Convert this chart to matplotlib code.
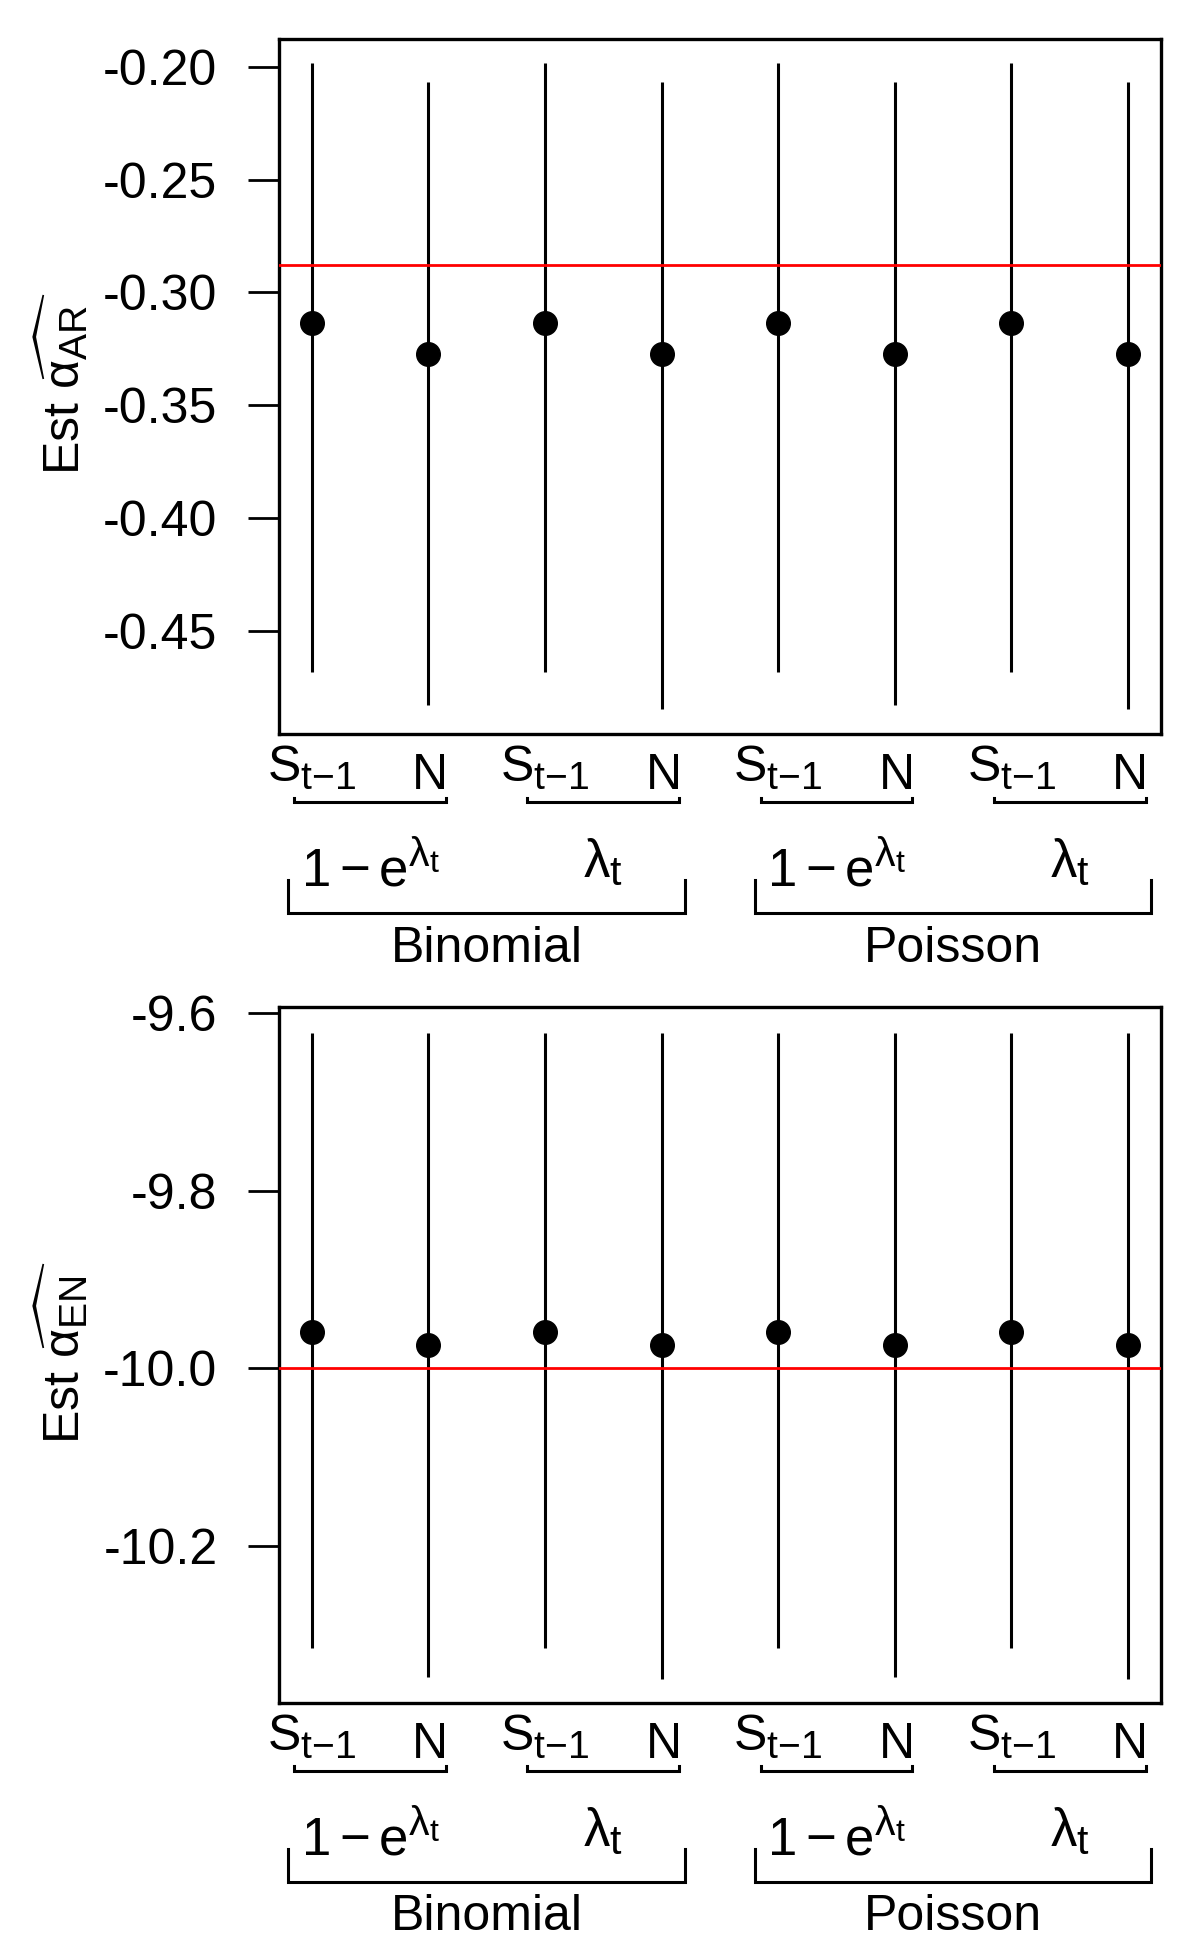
import matplotlib
matplotlib.use("Agg")
import matplotlib.pyplot as plt
import matplotlib.transforms as mtransforms
import matplotlib._mathtext as _mt

_mt.SHRINK_FACTOR = 0.78

plt.rcParams['font.family'] = ['Liberation Sans', 'DejaVu Sans']
plt.rcParams['mathtext.fontset'] = 'custom'
plt.rcParams['mathtext.rm'] = 'Liberation Sans'
plt.rcParams['mathtext.it'] = 'Liberation Sans'
plt.rcParams['mathtext.sf'] = 'Liberation Sans'
plt.rcParams['mathtext.bf'] = 'Liberation Sans:bold'
plt.rcParams['axes.unicode_minus'] = False

# ---------------- data ----------------
positions = [1, 2, 3, 4, 5, 6, 7, 8]
level1_labels = [r'$\mathrm{S}_{\mathrm{t}{-}\mathrm{1}}$', r'$\mathrm{N}$'] * 4
level2_positions = [1.5, 3.5, 5.5, 7.5]
level2_labels = [r'$1-\mathrm{e}^{\lambda_{\mathrm{t}}}$', r'$\lambda_{\mathrm{t}}$',
                 r'$1-\mathrm{e}^{\lambda_{\mathrm{t}}}$', r'$\lambda_{\mathrm{t}}$']
group_positions = [2.5, 6.5]
group_labels = ['Binomial', 'Poisson']

est_ar = [-0.3137, -0.3274, -0.3137, -0.3274, -0.3137, -0.3274, -0.3137, -0.3274]
low_ar = [-0.4680, -0.4828, -0.4680, -0.4847, -0.4680, -0.4828, -0.4680, -0.4847]
up_ar = [-0.1985, -0.2066, -0.1985, -0.2066, -0.1985, -0.2066, -0.1985, -0.2066]
true_ar = -0.2877
ticks_ar = [-0.45, -0.40, -0.35, -0.30, -0.25, -0.20]
ylim_ar = (-0.4956, -0.1879)

est_en = [-9.9594, -9.9737, -9.9594, -9.9737, -9.9594, -9.9737, -9.9594, -9.9737]
low_en = [-10.3155, -10.3482, -10.3155, -10.3500, -10.3155, -10.3482, -10.3155, -10.3500]
up_en = [-9.6219, -9.6225, -9.6219, -9.6225, -9.6219, -9.6225, -9.6219, -9.6225]
true_en = -10.0
ticks_en = [-10.2, -10.0, -9.8, -9.6]
ylim_en = (-10.3768, -9.5926)

W, H = 1200, 1950
fig = plt.figure(figsize=(W / 100, H / 100), dpi=100)

left, right = 279 / W, 1160.7 / W
ax1 = fig.add_axes([left, 1 - 734 / H, right - left, (734 - 39.3) / H])
ax2 = fig.add_axes([left, 1 - 1702.7 / H, right - left, (1702.7 - 1006.7) / H])

FS = 36


def panel(ax, est, low, up, truth, ticks, fmt, ylim, ylab, ylab_y):
    ax.vlines(positions, low, up, colors='black', linewidth=2.2, zorder=2)
    ax.plot(positions, est, 'o', color='black', markersize=17, zorder=3)
    ax.axhline(truth, color='#FF0000', linewidth=2.0, zorder=4)
    ax.set_xlim(0.72, 8.28)
    ax.set_ylim(*ylim)
    ax.set_yticks(ticks)
    ax.set_yticklabels([fmt % t for t in ticks])
    ax.tick_params(axis='y', length=22.3, width=2.0, pad=22, labelsize=FS)
    ax.set_xticks([])
    for s in ax.spines.values():
        s.set_linewidth(2.4)

    ax_h_px = ax.get_position().height * H
    trans = mtransforms.blended_transform_factory(ax.transData, ax.transAxes)

    def yb(px):
        return -px / ax_h_px

    for p, lab in zip(positions, level1_labels):
        off = 48 if lab.startswith(r'$\mathrm{S}') else 55
        ax.text(p, yb(off), lab, transform=trans, ha='center', va='baseline',
                fontsize=FS, clip_on=False)
    # small brackets
    for a in [1, 3, 5, 7]:
        x0, x1 = a - 0.15, a + 1.15
        ax.plot([x0, x0, x1, x1], [yb(63.7), yb(68.3), yb(68.3), yb(63.7)],
                transform=trans, color='black', linewidth=2.2, clip_on=False,
                solid_joinstyle='miter')
    for p, lab in zip(level2_positions, level2_labels):
        off = 152.7 if lab.startswith('$1') else 143
        ax.text(p, yb(off), lab, transform=trans, ha='center', va='baseline',
                fontsize=38, clip_on=False)
    # large brackets
    for a in [1, 5]:
        x0, x1 = a - 0.2, a + 3.2
        ax.plot([x0, x0, x1, x1], [yb(146), yb(179.3), yb(179.3), yb(146)],
                transform=trans, color='black', linewidth=2.2, clip_on=False,
                solid_joinstyle='miter')
    for p, lab in zip(group_positions, group_labels):
        ax.text(p, yb(227.7), lab, transform=trans, ha='center', va='baseline',
                fontsize=FS, clip_on=False)

    ax.set_xlim(0.72, 8.28)
    ax.set_ylim(*ylim)
    fig.text(61 / W, 1 - ylab_y / H, ylab, rotation=90, ha='center', va='center',
             fontsize=FS)


panel(ax1, est_ar, low_ar, up_ar, true_ar, ticks_ar, '%.2f', ylim_ar,
      r'Est $\widehat{\alpha_{\mathrm{AR}}}$', 384)
panel(ax2, est_en, low_en, up_en, true_en, ticks_en, '%.1f', ylim_en,
      r'Est $\widehat{\alpha_{\mathrm{EN}}}$', 1353)

fig.savefig('out.png', dpi=100)
